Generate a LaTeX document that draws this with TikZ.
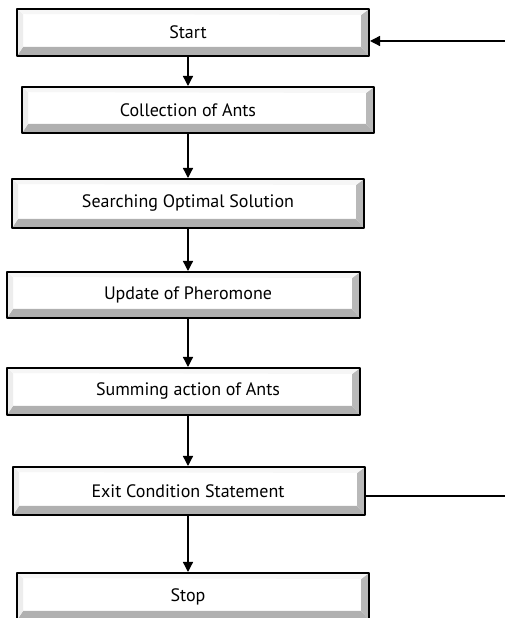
\documentclass[tikz,border=0pt]{standalone}
\usepackage{fontspec}
\setmainfont{PT Sans}
\usetikzlibrary{positioning,arrows.meta}

\newcommand{\ppb}{path picture bounding box}
\tikzset{
  bevelbox/.style={draw=black,line width=2bp,fill=white,rectangle,
    minimum width=352bp,minimum height=47bp,inner sep=0pt,
    font=\fontsize{18bp}{20bp}\selectfont,
    path picture={
      \fill[gray!62] (\ppb.south west) -- (\ppb.south east)
        -- ([shift={(-8bp,9bp)}]\ppb.south east) -- ([shift={(6bp,9bp)}]\ppb.south west) -- cycle;
      \fill[gray!55] (\ppb.south east) -- (\ppb.north east)
        -- ([shift={(-8bp,-6bp)}]\ppb.north east) -- ([shift={(-8bp,9bp)}]\ppb.south east) -- cycle;
      \fill[gray!14] (\ppb.south west) -- (\ppb.north west)
        -- ([shift={(6bp,-5bp)}]\ppb.north west) -- ([shift={(6bp,9bp)}]\ppb.south west) -- cycle;
      \fill[gray!7] (\ppb.north west) -- (\ppb.north east)
        -- ([shift={(-8bp,-6bp)}]\ppb.north east) -- ([shift={(6bp,-5bp)}]\ppb.north west) -- cycle;
    }},
  textshift/.style={execute at begin node={\hspace*{#1}}},
  flow/.style={black,line width=1.3bp,->},
}

\begin{document}
\begin{tikzpicture}[>={Triangle[length=10bp,width=10bp]},line join=bevel]
\useasboundingbox (0bp,0bp) rectangle (505bp,618bp);
%%
\coordinate (axis) at (188bp,0bp);
  \node (start) at (193bp,585.5bp) [bevelbox,textshift=-10bp] {Start};
  \node (collect) at (198bp,508bp) [bevelbox,minimum height=46bp,textshift=-20bp] {Collection of Ants};
  \node (search) at (188bp,414.5bp) [bevelbox,minimum height=49bp] {Searching Optimal Solution};
  \node (update) at (183.5bp,323bp) [bevelbox,minimum width=353bp,minimum height=46bp,textshift=9bp] {Update of Pheromone};
  \node (summing) at (183.5bp,226.5bp) [bevelbox,minimum width=353bp,textshift=9bp] {Summing action of Ants};
  \node (exit) at (189bp,127bp) [bevelbox,minimum height=48bp,textshift=-2bp] {Exit Condition Statement};
  \node (stop) at (193bp,21.5bp) [bevelbox,textshift=-10bp] {Stop};
  \coordinate (loopin) at (505bp,577bp);
  \coordinate (loopout) at (505bp,122bp);
  \draw [flow] (start.south -| axis) -- (collect.north -| axis);
  \draw [flow] (collect.south -| axis) -- (search.north -| axis);
  \draw [flow] (search.south -| axis) -- (update.north -| axis);
  \draw [flow] (update.south -| axis) -- (summing.north -| axis);
  \draw [flow] (summing.south -| axis) -- (exit.north -| axis);
  \draw [flow] (exit.south -| axis) -- (stop.north -| axis);
  \draw [flow] (loopin) -- (start.east |- loopin);
  \draw [black,line width=1.3bp] (exit.east |- loopout) -- (loopout);
%
\end{tikzpicture}
\end{document}
